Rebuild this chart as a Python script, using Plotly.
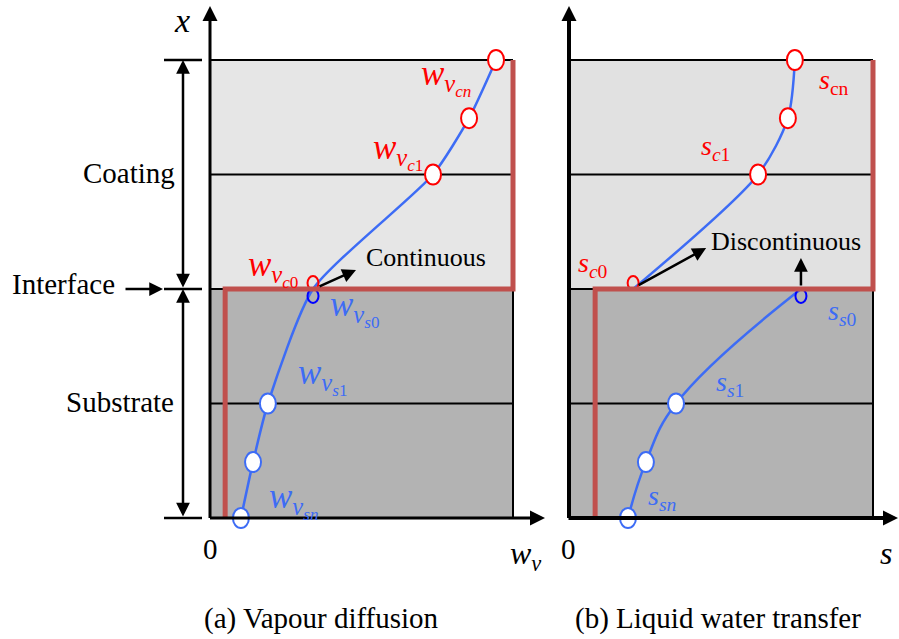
import plotly.graph_objects as go

# ---------------------------------------------------------------------------
# Data: normalised depth through the coated wall (0 = substrate bottom,
# 0.5 = coating/substrate interface, 1 = coating surface)
# ---------------------------------------------------------------------------
layer_edges = [0.0, 0.25, 0.5, 0.75, 1.0]
interface_depth = 0.5

# node depths: substrate bottom-up ending at the interface, coating from the interface up
depth_substrate = [0.0, 0.122, 0.25, 0.5]
depth_coating = [0.5, 0.75, 0.873, 1.0]

# vapour content w_v at the nodes
wv_substrate = [0.102, 0.142, 0.191, 0.340]
wv_coating = [0.340, 0.736, 0.855, 0.944]

# degree of saturation s at the nodes
s_substrate = [0.194, 0.253, 0.352, 0.763]
s_coating = [0.211, 0.622, 0.720, 0.743]

# step profile (substrate level, coating level)
wv_step = [0.05, 1.0]
s_step = [0.086, 1.0]

# node labels: (node index, text, x shift px, y shift px)
wv_sub_labels = [
    (0, "<i>w</i><sub><i>v</i><sub><i>sn</i></sub></sub>", 53, 18),
    (2, "<i>w</i><sub><i>v</i><sub><i>s</i>1</sub></sub>", 55, 27),
    (3, "<i>w</i><sub><i>v</i><sub><i>s</i>0</sub></sub>", 41, -19),
]
wv_coat_labels = [
    (0, "<i>w</i><sub><i>v</i><sub><i>c</i>0</sub></sub>", -40, 21),
    (1, "<i>w</i><sub><i>v</i><sub><i>c</i>1</sub></sub>", -35, 23),
    (3, "<i>w</i><sub><i>v</i><sub><i>cn</i></sub></sub>", -50, -17),
]
s_sub_labels = [
    (0, "<i>s</i><sub><i>sn</i></sub>", 34, 21),
    (2, "<i>s</i><sub><i>s</i>1</sub>", 54, 20),
    (3, "<i>s</i><sub><i>s</i>0</sub>", 42, -23),
]
s_coat_labels = [
    (0, "<i>s</i><sub><i>c</i>0</sub>", -40, 25),
    (1, "<i>s</i><sub><i>c</i>1</sub>", -43, 27),
    (3, "<i>s</i><sub>cn</sub>", 39, -21),
]

# ---------------------------------------------------------------------------
# Styling
# ---------------------------------------------------------------------------
SERIF = "Liberation Serif, Times New Roman, serif"
BLUE = "#3D6CF5"
RED = "#FF0000"
DARK_BLUE = "#0000FF"
STEP = "#C0504D"
COAT_FILL = ["#E6E6E6", "#E1E1E1"]
SUB_FILL = "#B3B3B3"

W, H = 899, 639
# pixel placement of the two panels (origin x pixel, pixels per unit)
ORIGIN_A, SCALE_A = 210, 303
ORIGIN_B, SCALE_B = 569, 304
Y_ORIGIN, Y_SCALE = 518, 458

x_range_a = [-ORIGIN_A / SCALE_A, (W - ORIGIN_A) / SCALE_A]
x_range_b = [-ORIGIN_B / SCALE_B, (W - ORIGIN_B) / SCALE_B]
y_range = [(Y_ORIGIN - H) / Y_SCALE, Y_ORIGIN / Y_SCALE]


def px_x(px, origin, scale):
    return (px - origin) / scale


def px_y(py):
    return (Y_ORIGIN - py) / Y_SCALE


fig = go.Figure()
shapes = []
annotations = []


def curve(xref, xs, ys, smoothing):
    fig.add_trace(go.Scatter(
        x=xs, y=ys, mode="lines",
        line=dict(color=BLUE, width=2.5, shape="spline", smoothing=smoothing),
        xaxis=xref, yaxis="y", hoverinfo="skip", showlegend=False))


def build_panel(xref, fill_coat, axis_width, sub_vals, coat_vals, step_vals,
                sub_labels, coat_labels, label_size, scale, x_tip):
    top = layer_edges[-1]
    # layer backgrounds
    shapes.append(dict(type="rect", xref=xref, yref="y", x0=0, x1=1,
                       y0=interface_depth, y1=top, fillcolor=fill_coat,
                       line_width=0, layer="below"))
    shapes.append(dict(type="rect", xref=xref, yref="y", x0=0, x1=1,
                       y0=layer_edges[0], y1=interface_depth, fillcolor=SUB_FILL,
                       line_width=0, layer="below"))
    # layer boundaries
    for d in layer_edges[1:]:
        shapes.append(dict(type="line", xref=xref, yref="y", x0=0, x1=1, y0=d, y1=d,
                           line=dict(color="black", width=2), layer="below"))
    shapes.append(dict(type="line", xref=xref, yref="y", x0=1, x1=1,
                       y0=layer_edges[0], y1=interface_depth,
                       line=dict(color="black", width=2), layer="below"))

    # node markers (ellipses); interface nodes drawn as small open ovals
    def ellipse(xv, yv, color, w, h, dy, fill):
        shapes.append(dict(type="circle", xref=xref, yref="y",
                           xsizemode="pixel", xanchor=xv, x0=-w / 2, x1=w / 2,
                           ysizemode="pixel", yanchor=yv, y0=dy - h / 2, y1=dy + h / 2,
                           fillcolor=fill, line=dict(color=color, width=2),
                           layer="above"))

    for xv, yv in zip(sub_vals[:-1], depth_substrate[:-1]):
        ellipse(xv, yv, BLUE, 16, 20, 0, "white")
    for xv, yv in zip(coat_vals[1:], depth_coating[1:]):
        ellipse(xv, yv, RED, 16, 20, 0, "white")
    ellipse(coat_vals[0], depth_coating[0], RED, 11, 14, 6, "rgba(0,0,0,0)")
    ellipse(sub_vals[-1], depth_substrate[-1], DARK_BLUE, 11, 14, -7, "rgba(0,0,0,0)")

    # step profile
    sv, cv = step_vals
    path = (f"M{sv},{layer_edges[0]} L{sv},{interface_depth} "
            f"L{cv},{interface_depth} L{cv},{top}")
    shapes.append(dict(type="path", xref=xref, yref="y", path=path,
                       line=dict(color=STEP, width=5), layer="above"))

    # axes with arrow heads
    y_tip = px_y(6)
    for (hx, hy, tx, ty) in ((0, y_tip, 0, px_y(Y_ORIGIN + 1.5)),
                             (x_tip, 0, -axis_width / 2 / scale, 0)):
        annotations.append(dict(
            x=hx, y=hy, ax=tx, ay=ty, xref=xref, yref="y", axref=xref, ayref="y",
            text="", showarrow=True, arrowhead=2, arrowsize=3.0 / axis_width,
            arrowwidth=axis_width, arrowcolor="black", standoff=0, startstandoff=0))

    # node labels
    for idx, txt, dx, dy in sub_labels:
        annotations.append(dict(
            x=sub_vals[idx], y=depth_substrate[idx], xref=xref, yref="y",
            text=txt, showarrow=False, xshift=dx, yshift=dy,
            font=dict(family=SERIF, size=label_size, color=BLUE)))
    for idx, txt, dx, dy in coat_labels:
        annotations.append(dict(
            x=coat_vals[idx], y=depth_coating[idx], xref=xref, yref="y",
            text=txt, showarrow=False, xshift=dx, yshift=dy,
            font=dict(family=SERIF, size=label_size, color=RED)))


# (a) vapour content is continuous across the interface: one curve
curve("x", wv_substrate + wv_coating[1:], depth_substrate + depth_coating[1:], 0.6)
# (b) saturation jumps at the interface: separate substrate and coating curves
curve("x2", s_substrate, depth_substrate, 1.2)
curve("x2", s_coating, depth_coating, 0.8)

build_panel("x", COAT_FILL[0], 3, wv_substrate, wv_coating, wv_step,
            wv_sub_labels, wv_coat_labels, 35, SCALE_A,
            px_x(545, ORIGIN_A, SCALE_A))
build_panel("x2", COAT_FILL[1], 4, s_substrate, s_coating, s_step,
            s_sub_labels, s_coat_labels, 28, SCALE_B,
            px_x(898, ORIGIN_B, SCALE_B))

# ---------------------------------------------------------------------------
# Interface behaviour arrows and notes
# ---------------------------------------------------------------------------
arrow_style = dict(showarrow=True, arrowhead=2, arrowsize=1.1, arrowwidth=2.5,
                   arrowcolor="black", standoff=0, text="")
annotations.append(dict(x=wv_coating[0], y=interface_depth, xref="x", yref="y",
                        xshift=43, yshift=19, ax=-38, ay=17, **arrow_style))
annotations.append(dict(x=wv_coating[0], y=interface_depth, xref="x", yref="y",
                        xshift=113, yshift=32, text="Continuous", showarrow=False,
                        font=dict(family=SERIF, size=26, color="black")))
annotations.append(dict(x=s_coating[0], y=interface_depth, xref="x2", yref="y",
                        xshift=73, yshift=41, ax=-69, ay=38, **arrow_style))
annotations.append(dict(x=s_substrate[-1], y=interface_depth, xref="x2", yref="y",
                        xshift=0, yshift=31, ax=0, ay=29, **arrow_style))
annotations.append(dict(x=s_coating[0], y=interface_depth, xref="x2", yref="y",
                        xshift=153, yshift=48, text="Discontinuous", showarrow=False,
                        font=dict(family=SERIF, size=26, color="black")))

# ---------------------------------------------------------------------------
# Layer dimension bars on the left of panel (a)
# ---------------------------------------------------------------------------
bar_x0 = px_x(164, ORIGIN_A, SCALE_A)
bar_x1 = px_x(202, ORIGIN_A, SCALE_A)
bar_mid = px_x(183, ORIGIN_A, SCALE_A)
for d in (layer_edges[0], interface_depth, layer_edges[-1]):
    shapes.append(dict(type="line", xref="x", yref="y", x0=bar_x0, x1=bar_x1,
                       y0=d, y1=d, line=dict(color="black", width=2.5)))
for lo, hi in ((interface_depth, layer_edges[-1]), (layer_edges[0], interface_depth)):
    annotations.append(dict(x=bar_mid, y=hi, ax=bar_mid, ay=lo, xref="x", yref="y",
                            axref="x", ayref="y", text="", showarrow=True,
                            arrowside="end+start", arrowhead=2, startarrowhead=2,
                            arrowsize=1.1, startarrowsize=1.1, arrowwidth=2.5,
                            arrowcolor="black", standoff=0, startstandoff=0))
annotations.append(dict(x=px_x(163, ORIGIN_A, SCALE_A), y=interface_depth,
                        ax=px_x(124, ORIGIN_A, SCALE_A), ay=interface_depth,
                        xref="x", yref="y", axref="x", ayref="y", **arrow_style))

side_font = dict(family=SERIF, size=29, color="black")
annotations.append(dict(x=0, y=(interface_depth + layer_edges[-1]) / 2, xref="x", yref="y",
                        xshift=-81, yshift=2, text="Coating", showarrow=False, font=side_font))
annotations.append(dict(x=0, y=(layer_edges[0] + interface_depth) / 2, xref="x", yref="y",
                        xshift=-90, yshift=2, text="Substrate", showarrow=False, font=side_font))
annotations.append(dict(x=0, y=interface_depth, xref="x", yref="y",
                        xshift=-147, yshift=5, text="Interface", showarrow=False, font=side_font))

# ---------------------------------------------------------------------------
# Axis titles and captions
# ---------------------------------------------------------------------------
annotations.append(dict(x=0, y=px_y(6), xref="x", yref="y", xshift=-28, yshift=-14,
                        text="<i>x</i>", showarrow=False,
                        font=dict(family=SERIF, size=34, color="black")))
annotations.append(dict(x=0, y=0, xref="x", yref="y", yshift=-31, text="0",
                        showarrow=False, font=dict(family=SERIF, size=29, color="black")))
annotations.append(dict(x=0, y=0, xref="x2", yref="y", xshift=-1, yshift=-31, text="0",
                        showarrow=False, font=dict(family=SERIF, size=29, color="black")))
annotations.append(dict(x=px_x(545, ORIGIN_A, SCALE_A), y=0, xref="x", yref="y",
                        xshift=-20, yshift=-37, text="<i>w</i><sub><i>v</i></sub>",
                        showarrow=False, font=dict(family=SERIF, size=32, color="black")))
annotations.append(dict(x=px_x(898, ORIGIN_B, SCALE_B), y=0, xref="x2", yref="y",
                        xshift=-12, yshift=-35, text="<i>s</i>",
                        showarrow=False, font=dict(family=SERIF, size=32, color="black")))

cap_font = dict(family=SERIF, size=29, color="black")
annotations.append(dict(x=321 / W, y=1 - 618 / H, xref="paper", yref="paper",
                        xanchor="center", yanchor="middle",
                        text="(a) Vapour diffusion", showarrow=False, font=cap_font))
annotations.append(dict(x=718 / W, y=1 - 618 / H, xref="paper", yref="paper",
                        xanchor="center", yanchor="middle",
                        text="(b) Liquid water transfer", showarrow=False, font=cap_font))

fig.update_layout(
    width=W, height=H,
    margin=dict(l=0, r=0, t=0, b=0),
    paper_bgcolor="white", plot_bgcolor="white",
    showlegend=False,
    font=dict(family=SERIF),
    xaxis=dict(range=x_range_a, visible=False, fixedrange=True),
    xaxis2=dict(range=x_range_b, visible=False, fixedrange=True,
                overlaying="x", anchor="y"),
    yaxis=dict(range=y_range, visible=False, fixedrange=True),
    shapes=shapes,
    annotations=annotations,
)

fig.write_html("out.html", config={"displayModeBar": False})
